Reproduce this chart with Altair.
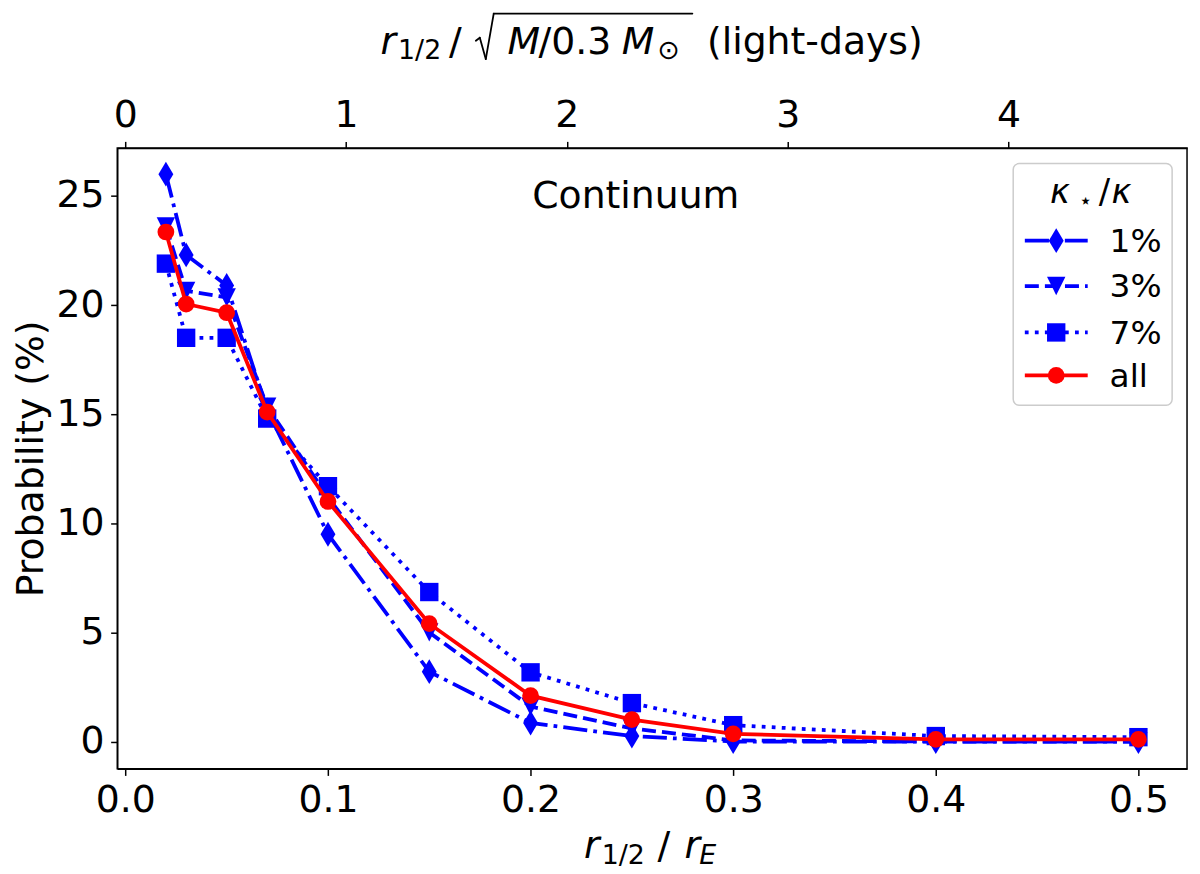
import altair as alt
import pandas as pd

# ---------------- data ----------------
x_vals = [0.02, 0.03, 0.05, 0.07, 0.1, 0.15, 0.2, 0.25, 0.3, 0.4, 0.5]
p_1 = [26.0, 22.3, 20.9, 15.2, 9.5, 3.2, 0.85, 0.25, 0.0, 0.0, 0.0]
p_3 = [23.6, 20.65, 20.35, 15.35, 11.2, 5.0, 1.6, 0.6, 0.05, 0.0, 0.0]
p_7 = [21.9, 18.5, 18.5, 14.8, 11.7, 6.85, 3.17, 1.76, 0.75, 0.25, 0.2]
p_all = [23.35, 20.05, 19.65, 15.1, 11.0, 5.4, 2.1, 1.0, 0.35, 0.1, 0.1]
series_labels = ["1%", "3%", "7%", "all"]
x_ticks = [0.0, 0.1, 0.2, 0.3, 0.4, 0.5]
y_ticks = [0, 5, 10, 15, 20, 25]
top_ticks = [0, 1, 2, 3, 4]

X_DOMAIN = [-0.004, 0.524]
LD_PER_RE = 9.178
TOP_DOMAIN = [X_DOMAIN[0] * LD_PER_RE, X_DOMAIN[1] * LD_PER_RE]
Y_DOMAIN = [-1.25, 27.2]

FONT = "DejaVu Sans"
BLUE = "#0000ff"
RED = "#ff0000"
LW = 3.8
DASHDOT = [24.3, 6.1, 3.8, 6.1]
DASHED = [14.1, 6.1]
DOTTED = [3.8, 6.3]
THIN_DIAMOND = "M0,-1L0.6,0L0,1L-0.6,0Z"
TRI_DOWN = "M-1,-1L1,-1L0,1Z"

W, H = 1077, 625

xscale = alt.Scale(domain=X_DOMAIN, nice=False, zero=False)
yscale = alt.Scale(domain=Y_DOMAIN, nice=False, zero=False)
X = alt.X("x:Q", scale=xscale,
          axis=alt.Axis(values=x_ticks, format=".1f", title=None, labelFlush=False))
Y = alt.Y("p:Q", scale=yscale,
          axis=alt.Axis(values=y_ticks, format="d", title="Probability (%)",
                        titlePadding=6, labelFlush=False))

styles = [
    (p_1, series_labels[0], THIN_DIAMOND, 625, BLUE, DASHDOT),
    (p_3, series_labels[1], TRI_DOWN, 342, BLUE, DASHED),
    (p_7, series_labels[2], "square", 342, BLUE, DOTTED),
    (p_all, series_labels[3], "circle", 284, RED, None),
]

data_layers = []
for vals, lab, shape, size, color, dash in styles:
    df = pd.DataFrame({"x": x_vals, "p": vals, "series": lab})
    base = alt.Chart(df)
    line_kw = dict(color=color, strokeWidth=LW)
    if dash is not None:
        line_kw["strokeDash"] = dash
    data_layers.append(base.mark_line(**line_kw).encode(x=X, y=Y))
    data_layers.append(
        base.mark_point(shape=shape, size=size, filled=True, color=color,
                        opacity=1, strokeWidth=0).encode(x=X, y=Y))

one = pd.DataFrame({"k": [0]})


def txt(s, x, y, size=38, style="normal", align="left", baseline="alphabetic"):
    return alt.Chart(one).mark_text(
        font=FONT, fontSize=size, fontStyle=style, align=align,
        baseline=baseline, color="black").encode(
        x=alt.value(x), y=alt.value(y), text=alt.value(s))


def seg(x1, y1, x2, y2, w=1.8):
    return alt.Chart(one).mark_rule(color="black", strokeWidth=w, strokeCap="round").encode(
        x=alt.value(x1), y=alt.value(y1), x2=alt.value(x2), y2=alt.value(y2))


# annotation inside the panel
deco = [txt("Continuum", 522, 60.7, 38, align="center")]

# legend (drawn as marks)
legend = [
    alt.Chart(one).mark_rect(cornerRadius=6, fill="white", fillOpacity=0.8,
                             stroke="#cccccc", strokeWidth=1.5).encode(
        x=alt.value(902), x2=alt.value(1062), y=alt.value(15.7), y2=alt.value(259)),
    txt("κ", 939, 55.7, 34, style="italic"),
    txt("⋆", 968, 60, 22),
    txt("/", 988, 55.7, 34),
    txt("κ", 1001, 55.7, 34, style="italic"),
]
leg_y = [93.3, 139.0, 185.7, 229.0]
for (vals, lab, shape, size, color, dash), ly in zip(styles, leg_y):
    rule_kw = dict(color=color, strokeWidth=LW)
    if dash is not None:
        rule_kw["strokeDash"] = dash
    legend.append(alt.Chart(one).mark_rule(**rule_kw).encode(
        x=alt.value(913.7), x2=alt.value(977), y=alt.value(ly)))
    legend.append(alt.Chart(one).mark_point(shape=shape, size=size, filled=True,
                                            color=color, opacity=1, strokeWidth=0).encode(
        x=alt.value(945.3), y=alt.value(ly)))
    legend.append(txt(lab, 999, ly + 11.5, 33))

# bottom axis title: r_{1/2} / r_E
bottom_title = [
    txt("r", 470, 715, 38, style="italic"),
    txt("1/2", 487.7, 721, 27),
    txt("/", 544, 715, 38),
    txt("r", 571, 715, 38, style="italic"),
    txt("E", 586, 721, 27, style="italic"),
]

# top axis title: r_{1/2} / sqrt(M/0.3 M_sun) (light-days)
top_title = [
    txt("r", 265, -94.3, 38, style="italic"),
    txt("1/2", 282.7, -89.5, 27),
    txt("/", 334, -94.3, 38),
    # radical sign strokes + overline
    seg(361, -108, 365, -111),
    seg(365, -111, 371, -89.5),
    seg(371, -89.5, 379, -135.3),
    seg(379, -135.3, 579, -135.3),
    txt("M", 393, -94.3, 38, style="italic"),
    txt("/0.3", 424, -94.3, 38),
    txt("M", 508, -94.3, 38, style="italic"),
    txt("⊙", 544, -89.5, 27),
    txt("(light-days)", 593.7, -94.3, 38),
]

main = alt.layer(*data_layers, *deco, *legend, *bottom_title, *top_title)

top_axis = alt.Chart(pd.DataFrame({"ld": top_ticks})).mark_tick(opacity=0).encode(
    x=alt.X("ld:Q", scale=alt.Scale(domain=TOP_DOMAIN, nice=False, zero=False),
            axis=alt.Axis(orient="top", values=top_ticks, format="d", title=None,
                          labelFlush=False)))

chart = alt.layer(main, top_axis).resolve_scale(x="independent").properties(
    width=W, height=H,
    autosize=alt.AutoSizeParams(type="none"),
    padding={"left": 110, "top": 138, "right": 5, "bottom": 105},
    background="white",
).configure_view(stroke="black", strokeWidth=1.5).configure_axis(
    domainColor="black", domainWidth=1.5, tickColor="black", tickWidth=1.5,
    tickSize=6.65, labelFont=FONT, labelFontSize=38, labelColor="black",
    labelPadding=6.65, grid=False, titleFont=FONT, titleFontSize=38,
    titleFontWeight="normal", titleColor="black")

chart.save("out.html", embed_options={"renderer": "svg", "actions": False})
